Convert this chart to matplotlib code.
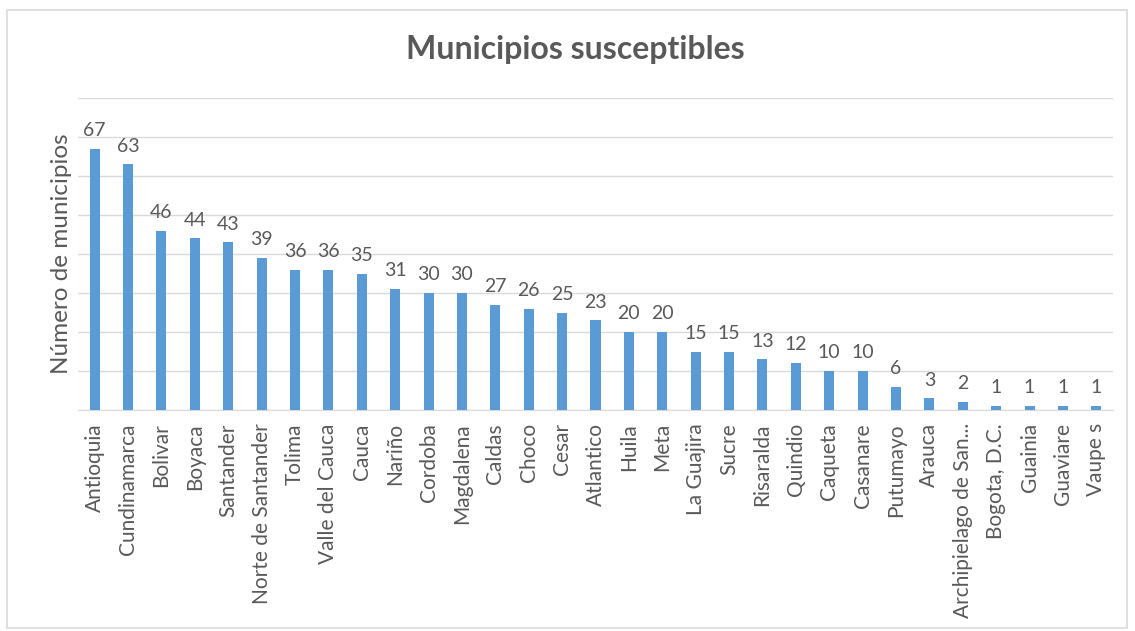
import matplotlib
matplotlib.use("Agg")
import matplotlib.pyplot as plt
from matplotlib.patches import Rectangle

categories = ["Antioquia", "Cundinamarca", "Bolivar", "Boyaca", "Santander",
              "Norte de Santander", "Tolima", "Valle del Cauca", "Cauca", "Nariño",
              "Cordoba", "Magdalena", "Caldas", "Choco", "Cesar", "Atlantico",
              "Huila", "Meta", "La Guajira", "Sucre", "Risaralda", "Quindio",
              "Caqueta", "Casanare", "Putumayo", "Arauca", "Archipielago de San...",
              "Bogota, D.C.", "Guainia", "Guaviare", "Vaupe s"]
values = [67, 63, 46, 44, 43, 39, 36, 36, 35, 31, 30, 30, 27, 26, 25, 23,
          20, 20, 15, 15, 13, 12, 10, 10, 6, 3, 2, 1, 1, 1, 1]

plt.rcParams['font.family'] = ['Lato', 'DejaVu Sans']
W, H = 1135, 631
fig = plt.figure(figsize=(W/100, H/100), dpi=100)
fig.patches.append(Rectangle((7/W, 1 - 628/H), (1127-7)/W, (628-10)/H,
                             transform=fig.transFigure, fill=False,
                             edgecolor='#D9D9D9', linewidth=1.2))

left, right, top, bottom = 78, 1113, 98, 410
ax = fig.add_axes([left/W, 1 - bottom/H, (right-left)/W, (bottom-top)/H])
x = list(range(len(categories)))
bars = ax.bar(x, values, width=0.3, color='#5B9BD5', zorder=3)
ax.set_xlim(-0.5, len(categories) - 0.5)
ax.set_ylim(0, 80)
ax.set_yticks(range(0, 81, 10))
ax.yaxis.grid(True, color='#D9D9D9', linewidth=1, zorder=0)
ax.tick_params(axis='y', left=False, labelleft=False)
for s in ['top', 'right', 'left']:
    ax.spines[s].set_visible(False)
ax.spines['bottom'].set_color('#D9D9D9')
ax.set_xticks(x)
ax.set_xticklabels(categories, rotation=90, fontsize=15, color='#595959')
ax.tick_params(axis='x', bottom=False, pad=6)
for xi, v in zip(x, values):
    ax.annotate(str(v), (xi, v), xytext=(0, 7), textcoords='offset points',
                ha='center', va='bottom', fontsize=14, color='#595959')
ax.set_ylabel('Número de municipios', fontsize=17.5, color='#595959', labelpad=4)
fig.text(575/W, 1 - 50/H, 'Municipios susceptibles', ha='center', va='center',
         fontsize=23, fontweight='bold', color='#595959')
fig.savefig('out.png', dpi=100)
